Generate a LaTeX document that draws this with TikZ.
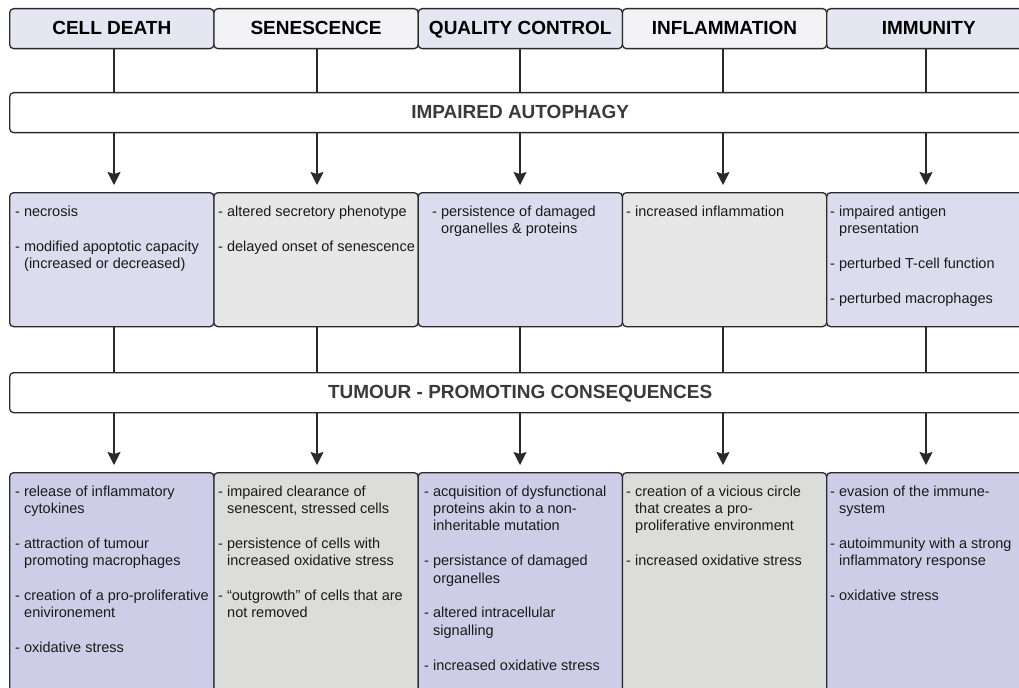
\documentclass[tikz,border=0pt]{standalone}
\usepackage{fontspec}
\setmainfont{Liberation Sans}
\usetikzlibrary{arrows.meta}
\definecolor{edge}{HTML}{2A2A2A}
\definecolor{hdrL}{HTML}{E6E6F2}
\definecolor{hdrG}{HTML}{F3F3F5}
\definecolor{midL}{HTML}{DCDCEE}
\definecolor{midG}{HTML}{E6E7E6}
\definecolor{botL}{HTML}{CDCDE7}
\definecolor{botG}{HTML}{DCDCDA}
\definecolor{txt}{HTML}{1A1A1A}
\definecolor{bartxt}{HTML}{3A3A3A}
\newcommand{\ind}{\hspace*{9bp}}
\newcommand{\gap}{\\[17.4bp]}
\newcommand{\boxtext}[1]{\parbox[t]{260bp}{\raggedright\fontsize{14.5bp}{17.4bp}\selectfont #1}}
\begin{document}
\begin{tikzpicture}[x=1bp,y=-1bp,
  box/.style={draw=edge, line width=1.3bp, rounded corners=4bp, anchor=north west, inner sep=0, minimum width=204.25bp},
  hdr/.style={box, minimum height=40bp, font=\fontsize{19bp}{22bp}\selectfont\bfseries, text=black, text height=13.6bp, text depth=2bp},
  bar/.style={box, minimum width=1021bp, minimum height=40bp, font=\fontsize{19bp}{22bp}\selectfont\bfseries, text=bartxt, fill=white, text height=13.6bp, text depth=2bp},
  mid/.style={box, minimum height=134bp},
  bot/.style={box, minimum height=240bp},
  body/.style={anchor=base west, inner sep=0, text=txt},
  link/.style={draw=edge, line width=1.3bp},
  arr/.style={link, -{Stealth[length=13bp,width=13bp,inset=2bp]}, shorten >=7bp}
]
\useasboundingbox (0,0) rectangle (1019,688);
\clip (0,0) rectangle (1019,688);
\fill[white] (0,0) rectangle (1019,688);

% column positions of connectors
\coordinate (c1) at (114,0);
\coordinate (c2) at (317,0);
\coordinate (c3) at (520,0);
\coordinate (c4) at (723,0);
\coordinate (c5) at (926,0);

% headers
\node[hdr, fill=hdrL] (h1) at (9,8) {CELL DEATH};
\node[hdr, fill=hdrG] (h2) at (213.25,8) {SENESCENCE};
\node[hdr, fill=hdrL] (h3) at (417.5,8) {QUALITY CONTROL};
\node[hdr, fill=hdrG] (h4) at (621.75,8) {INFLAMMATION};
\node[hdr, fill=hdrL] (h5) at (826,8) {IMMUNITY};

% impaired autophagy bar
\node[bar] (ia) at (9,92) {IMPAIRED AUTOPHAGY};

% middle boxes
\node[mid, fill=midL] (m1) at (9,192) {};
\node[mid, fill=midG] (m2) at (213.25,192) {};
\node[mid, fill=midL] (m3) at (417.5,192) {};
\node[mid, fill=midG] (m4) at (621.75,192) {};
\node[mid, fill=midL] (m5) at (826,192) {};

% tumour bar
\node[bar] (tp) at (9,372) {TUMOUR - PROMOTING CONSEQUENCES};

% bottom boxes
\node[bot, fill=botL] (b1) at (9,472) {};
\node[bot, fill=botG] (b2) at (213.25,472) {};
\node[bot, fill=botL] (b3) at (417.5,472) {};
\node[bot, fill=botG] (b4) at (621.75,472) {};
\node[bot, fill=botL] (b5) at (826,472) {};

% connectors
\foreach \i in {1,...,5} {
  \draw[link] (h\i.south -| c\i) -- (ia.north -| c\i);
  \draw[arr] (ia.south -| c\i) -- (m\i.north -| c\i);
  \draw[link] (m\i.south -| c\i) -- (tp.north -| c\i);
  \draw[arr] (tp.south -| c\i) -- (b\i.north -| c\i);
}

% middle texts
\node[body] (t1) at (15,216.5) {\boxtext{- necrosis\gap
- modified apoptotic capacity\\ \ind (increased or decreased)}};
\node[body] (t2) at (218,216.5) {\boxtext{- altered secretory phenotype\gap
- delayed onset of senescence}};
\node[body] (t3) at (432,216.5) {\boxtext{- persistence of damaged\\ \ind organelles \& proteins}};
\node[body] (t4) at (626,216.5) {\boxtext{- increased inflammation}};
\node[body] (t5) at (830,216.5) {\boxtext{- impaired antigen\\ \ind presentation\gap
- perturbed T-cell function\gap
- perturbed macrophages}};

% bottom texts
\node[body] (u1) at (15,496) {\boxtext{- release of inflammatory\\ \ind cytokines\gap
- attraction of tumour\\ \ind promoting macrophages\gap
- creation of a pro-proliferative\\ \ind enivironement\gap
- oxidative stress}};
\node[body] (u2) at (218,496) {\boxtext{- impaired clearance of\\ \ind senescent, stressed cells\gap
- persistence of cells with\\ \ind increased oxidative stress\gap
- “outgrowth” of cells that are\\ \ind not removed}};
\node[body] (u3) at (424,496) {\boxtext{- acquisition of dysfunctional\\ \ind proteins akin to a non-\\ \ind inheritable mutation\gap
- persistance of damaged\\ \ind organelles\gap
- altered intracellular\\ \ind signalling\gap
- increased oxidative stress}};
\node[body] (u4) at (626,496) {\boxtext{- creation of a vicious circle\\ \ind that creates a pro-\\ \ind proliferative environment\gap
- increased oxidative stress}};
\node[body] (u5) at (830,496) {\boxtext{- evasion of the immune-\\ \ind system\gap
- autoimmunity with a strong\\ \ind inflammatory response\gap
- oxidative stress}};
\end{tikzpicture}
\end{document}
